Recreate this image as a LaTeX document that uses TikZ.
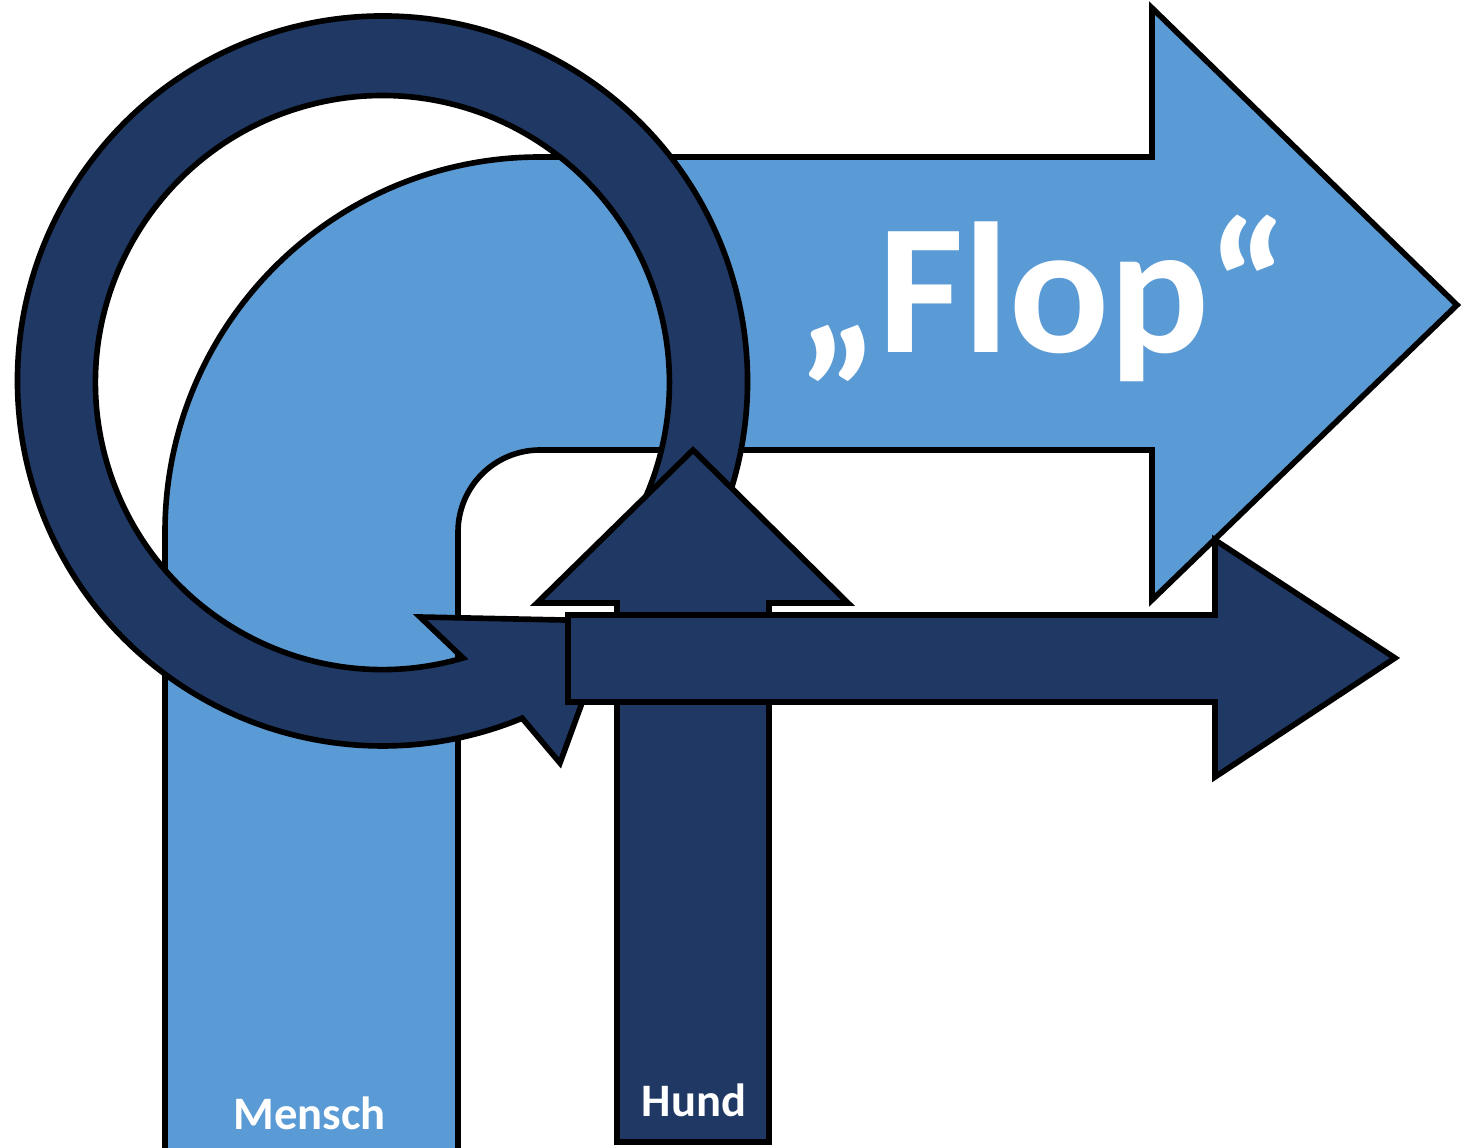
\documentclass[tikz,border=0pt]{standalone}
\usepackage{fontspec}
\setmainfont{Carlito}
\usepackage{xcolor}
\usepackage{tikz}
\definecolor{menschblue}{RGB}{91, 155, 213}
\definecolor{hundnavy}{RGB}{31, 56, 100}

\begin{document}
\begin{tikzpicture}[x=0.02cm, y=0.02cm,
  body/.style={draw=black, line width=3.2pt, line join=miter},
  lbl/.style={text=white, font=\bfseries\fontsize{26.5}{30}\selectfont, anchor=base, inner sep=0pt}]
\useasboundingbox (0,0) rectangle (1470,1147);

% Mensch arrow
\draw[body, fill=menschblue] (165,-20) -- (165,615) arc[start angle=180, end angle=90, radius=375]
  -- (1152,990) -- (1152,1139) -- (1457,842) -- (1152,547) -- (1152,697) -- (540,697)
  arc[start angle=90, end angle=180, radius=82] -- (458,-20) -- cycle;

% Circular arrow
\draw[body, fill=hundnavy] (382.5,766) ++(-33:365) arc[start angle=-33, end angle=292.5, radius=365]
  -- (560,384) -- (612,526) -- (420,530) -- (463,489)
  arc[start angle=286.3, end angle=-33, radius=287] -- cycle;

% Hund arrow
\draw[body, fill=hundnavy] (617,5) -- (617,544) -- (537,544) -- (693,697) -- (848,544) -- (769,544) -- (769,5) -- cycle;

% Right arrow
\draw[body, fill=hundnavy] (568,445) -- (568,532) -- (1215,532) -- (1215,607) -- (1395,489) -- (1215,370) -- (1215,445) -- cycle;

% Labels
\node[lbl] (mensch) at (309.5,18) {Mensch};
\node[lbl] (hund) at (694,31) {Hund};
\node[lbl, font=\bfseries\fontsize{106}{120}\selectfont] (flop) at (1043,794) {„Flop“};

\end{tikzpicture}
\end{document}
